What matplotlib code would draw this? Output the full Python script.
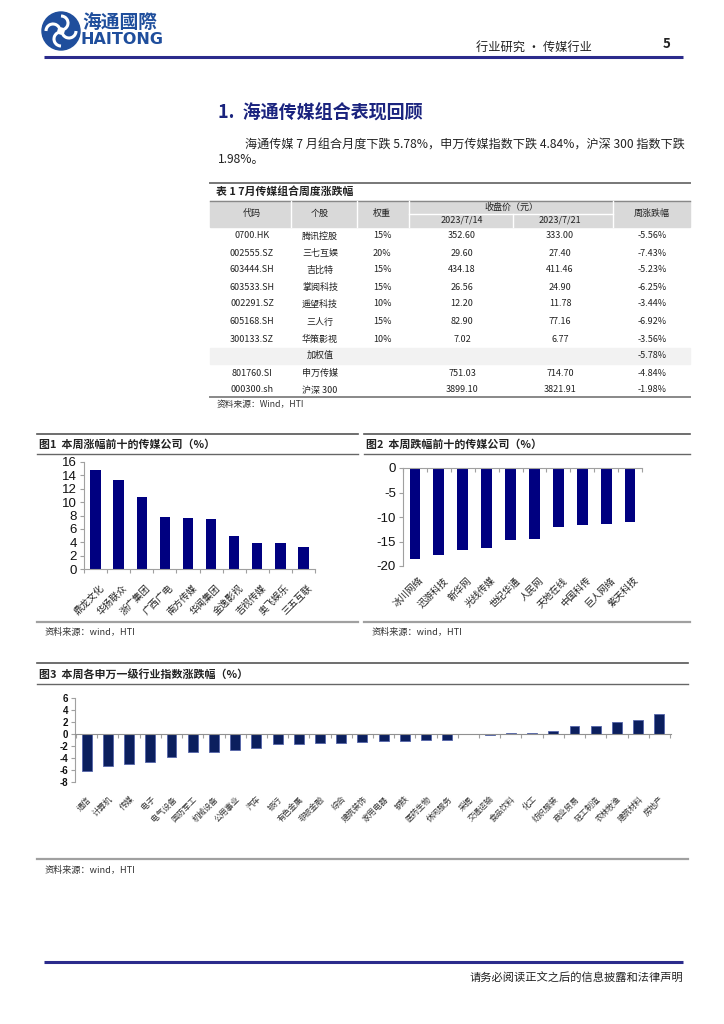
import matplotlib
matplotlib.use("Agg")
import matplotlib.pyplot as plt
from matplotlib.patches import Rectangle, Circle, Arc
import numpy as np

plt.rcParams['font.family'] = ['Noto Sans CJK SC', 'DejaVu Sans']
plt.rcParams['axes.unicode_minus'] = False

# ---------------- data ----------------
tbl_codes = ["0700.HK", "002555.SZ", "603444.SH", "603533.SH", "002291.SZ", "605168.SH", "300133.SZ"]
tbl_names = ["腾讯控股", "三七互娱", "吉比特", "掌阅科技", "遥望科技", "三人行", "华策影视"]
tbl_weights = ["15%", "20%", "15%", "15%", "10%", "15%", "10%"]
tbl_p0714 = ["352.60", "29.60", "434.18", "26.56", "12.20", "82.90", "7.02"]
tbl_p0721 = ["333.00", "27.40", "411.46", "24.90", "11.78", "77.16", "6.77"]
tbl_chg = ["-5.56%", "-7.43%", "-5.23%", "-6.25%", "-3.44%", "-6.92%", "-3.56%"]
weighted_chg = "-5.78%"
idx_codes = ["801760.SI", "000300.sh"]
idx_names = ["申万传媒", "沪深 300"]
idx_p0714 = ["751.03", "3899.10"]
idx_p0721 = ["714.70", "3821.91"]
idx_chg = ["-4.84%", "-1.98%"]

fig1_names = ["鼎龙文化", "华扬联众", "浙广集团", "广西广电", "南方传媒", "华闻集团", "金逸影视", "吉视传媒", "奥飞娱乐", "三五互联"]
fig1_vals = [14.8, 13.35, 10.75, 7.75, 7.65, 7.5, 5.0, 3.9, 3.9, 3.3]

fig2_names = ["冰川网络", "迅游科技", "新华网", "光线传媒", "世纪华通", "人民网", "天地在线", "中国科传", "巨人网络", "紫天科技"]
fig2_vals = [-18.5, -17.7, -16.7, -16.4, -14.6, -14.4, -12.0, -11.6, -11.4, -11.1]

fig3_names = ["通信", "计算机", "传媒", "电子", "电气设备", "国防军工", "机械设备", "公用事业", "汽车",
              "银行", "有色金属", "非银金融", "综合", "建筑装饰", "家用电器", "钢铁", "医药生物", "休闲服务",
              "采掘", "交通运输", "食品饮料", "化工", "纺织服装", "商业贸易", "轻工制造", "农林牧渔",
              "建筑材料", "房地产"]
fig3_vals = [-6.2, -5.3, -5.05, -4.6, -3.9, -3.0, -3.0, -2.7, -2.3,
             -1.7, -1.7, -1.55, -1.45, -1.3, -1.2, -1.2, -1.0, -1.0,
             0.0, -0.15, 0.15, 0.15, 0.5, 1.4, 1.4, 1.95,
             2.4, 3.35]

# ---------------- figure ----------------
W, H = 724, 1024
fig = plt.figure(figsize=(W / 100, H / 100), dpi=100)
bg = fig.add_axes([0, 0, 1, 1])
bg.set_xlim(0, W)
bg.set_ylim(H, 0)
bg.axis('off')

NAVY = '#1F4E9C'
TXT = '#222222'
ARIAL = ['Liberation Sans', 'DejaVu Sans']

# logo
bg.add_patch(Circle((61, 31), 19, color=NAVY, zorder=2))
for ang in (0, 90, 180, 270):
    t = np.deg2rad(ang)
    cx_, cy_ = 61 + 8 * np.cos(t), 31 + 8 * np.sin(t)
    bg.add_patch(Arc((cx_, cy_), 14, 14, angle=ang, theta1=0, theta2=200, color='white', lw=2.2, zorder=3))
bg.add_patch(Circle((61, 31), 3, color='white', zorder=3))
bg.text(82, 22, "海通國際", fontsize=13.5, fontweight='bold', color=NAVY, va='center', ha='left')
bg.text(81, 40, "HAITONG", fontsize=11.5, fontweight='bold', color=NAVY, va='center', ha='left',
        family=['DejaVu Sans'])

# header
bg.text(592, 47, "行业研究 • 传媒行业", fontsize=8.8, color=TXT, ha='right', va='center')
bg.text(667, 44, "5", fontsize=9.5, fontweight='bold', color=TXT, ha='center', va='center')
bg.plot([44, 683], [57, 57], color='#2B2B8C', lw=2.2, solid_capstyle='butt')

# section title
bg.text(218, 113, "1.  海通传媒组合表现回顾", fontsize=13, fontweight='bold', color='#1A237E',
        ha='left', va='center')
bg.text(245, 145, "海通传媒 7 月组合月度下跌 5.78%，申万传媒指数下跌 4.84%，沪深 300 指数下跌",
        fontsize=8.7, color=TXT, ha='left', va='center')
bg.text(218, 160, "1.98%。", fontsize=8.7, color=TXT, ha='left', va='center')

# ---------------- table ----------------
TL, TR = 210, 690
bg.plot([TL, TR], [183, 183], color='#777777', lw=1.4)
bg.text(216, 192, "表 1 7月传媒组合周度涨跌幅", fontsize=7.8, fontweight='bold', color=TXT, va='center')
bg.add_patch(Rectangle((TL, 201), TR - TL, 26, color='#D9D9D9', zorder=1))
bg.plot([TL, TR], [201, 201], color='#888888', lw=1.0, zorder=2)
for xs in (291, 357, 409, 613):
    bg.plot([xs, xs], [201, 227], color='white', lw=1.0, zorder=2)
bg.plot([409, 613], [214, 214], color='white', lw=1.0, zorder=2)
bg.plot([513, 513], [214, 227], color='white', lw=1.0, zorder=2)

cx = [252, 320, 382, 462, 560, 652]
hs = 6.5
bg.text(cx[0], 213, "代码", fontsize=hs, color=TXT, ha='center', va='center', zorder=3)
bg.text(cx[1], 213, "个股", fontsize=hs, color=TXT, ha='center', va='center', zorder=3)
bg.text(cx[2], 213, "权重", fontsize=hs, color=TXT, ha='center', va='center', zorder=3)
bg.text(511, 207, "收盘价（元）", fontsize=hs, color=TXT, ha='center', va='center', zorder=3)
bg.text(cx[3], 220.5, "2023/7/14", fontsize=hs, color=TXT, ha='center', va='center', zorder=3)
bg.text(cx[4], 220.5, "2023/7/21", fontsize=hs, color=TXT, ha='center', va='center', zorder=3)
bg.text(cx[5], 213, "周涨跌幅", fontsize=hs, color=TXT, ha='center', va='center', zorder=3)

row_y = [236, 253, 270, 287, 304, 322, 339]
for i in range(len(tbl_codes)):
    y = row_y[i]
    vals = [tbl_codes[i], tbl_names[i], tbl_weights[i], tbl_p0714[i], tbl_p0721[i], tbl_chg[i]]
    for x, v in zip(cx, vals):
        bg.text(x, y, v, fontsize=hs, color=TXT, ha='center', va='center')

bg.add_patch(Rectangle((TL, 348), TR - TL, 16, color='#F2F2F2', zorder=1))
bg.text(cx[1], 355, "加权值", fontsize=hs, color=TXT, ha='center', va='center')
bg.text(cx[5], 355, weighted_chg, fontsize=hs, color=TXT, ha='center', va='center')

for j, y in enumerate([373, 390]):
    vals = [idx_codes[j], idx_names[j], "", idx_p0714[j], idx_p0721[j], idx_chg[j]]
    for x, v in zip(cx, vals):
        if v:
            bg.text(x, y, v, fontsize=hs, color=TXT, ha='center', va='center')

bg.plot([TL, TR], [397, 397], color='#888888', lw=1.4)
bg.text(217, 404, "资料来源：Wind，HTI", fontsize=6.3, color='#333333', va='center')


# ---------------- chart panels ----------------
def panel(x0, x1, ytop, ytitle_line, ybot, title, src_y, src_x):
    bg.plot([x0, x1], [ytop, ytop], color='#555555', lw=1.2)
    bg.text(x0 + 2, (ytop + ytitle_line) / 2 + 0.5, title, fontsize=7.9, fontweight='bold', color=TXT,
            va='center', ha='left')
    bg.plot([x0, x1], [ytitle_line, ytitle_line], color='#666666', lw=1.0)
    bg.plot([x0, x1], [ybot, ybot], color='#A0A0A0', lw=1.6)
    bg.text(src_x, src_y, "资料来源：wind，HTI", fontsize=6.6, color='#333333', va='center')


panel(37, 358, 434, 454, 622, "图1  本周涨幅前十的传媒公司（%）", 632, 45)
panel(364, 690, 434, 454, 622, "图2  本周跌幅前十的传媒公司（%）", 632, 372)
panel(37, 688, 663, 684, 859, "图3  本周各申万一级行业指数涨跌幅（%）", 870, 45)


def add_ax(x0, ytop, x1, ybot):
    return fig.add_axes([x0 / W, 1 - ybot / H, (x1 - x0) / W, (ybot - ytop) / H])


def style(ax, yticks, ticksize, weight='normal'):
    for s in ('top', 'right'):
        ax.spines[s].set_visible(False)
    ax.spines['left'].set_color('#A0A0A0')
    ax.spines['bottom'].set_color('#A0A0A0')
    ax.set_yticks(yticks)
    ax.set_yticklabels([str(int(v)) for v in yticks], fontfamily=ARIAL, fontsize=ticksize,
                       fontweight=weight, color='#111111')
    ax.tick_params(axis='y', length=3, color='#A0A0A0', pad=2)
    ax.tick_params(axis='x', length=3, color='#A0A0A0', labelbottom=False)
    ax.patch.set_alpha(0)


# Figure 1
ax1 = add_ax(84, 462, 315, 569)
n1 = len(fig1_vals)
ax1.bar(np.arange(n1), fig1_vals, width=0.45, color='#000080', zorder=2)
ax1.set_xlim(-0.5, n1 - 0.5)
ax1.set_ylim(0, 16)
ax1.set_xticks(np.arange(n1 + 1) - 0.5)
style(ax1, np.arange(0, 17, 2), 9.5)
for i, name in enumerate(fig1_names):
    ax1.annotate(name, xy=(i, 0), xycoords='data', xytext=(3, -10), textcoords='offset points',
                 rotation=45, ha='right', va='top', rotation_mode='anchor', fontsize=6.8, color=TXT)

# Figure 2
ax2 = add_ax(403, 468, 642, 566)
n2 = len(fig2_vals)
ax2.bar(np.arange(n2), fig2_vals, width=0.45, color='#000080', zorder=2)
ax2.set_xlim(-0.5, n2 - 0.5)
ax2.set_ylim(-20, 0)
ax2.set_xticks(np.arange(n2 + 1) - 0.5)
style(ax2, np.arange(-20, 1, 5), 9.5)
ax2.spines['bottom'].set_visible(False)
ax2.spines['top'].set_visible(True)
ax2.spines['top'].set_color('#A0A0A0')
ax2.tick_params(axis='x', top=True, bottom=False, direction='in', length=3)
for i, name in enumerate(fig2_names):
    ax2.annotate(name, xy=(i, -20), xycoords='data', xytext=(3, -7), textcoords='offset points',
                 rotation=45, ha='right', va='top', rotation_mode='anchor', fontsize=6.8, color=TXT)

# Figure 3
ax3 = add_ax(75, 698, 671, 782)
n3 = len(fig3_vals)
ax3.bar(np.arange(n3), fig3_vals, width=0.47, color='#0B1F5E', edgecolor='#5565AA', lw=0.6, zorder=2)
ax3.set_xlim(-0.55, n3 - 0.45)
ax3.set_ylim(-8, 6)
ax3.set_xticks(np.arange(n3 + 1) - 0.5)
style(ax3, np.arange(-8, 7, 2), 7, weight='bold')
ax3.spines['bottom'].set_position(('data', 0))
ax3.spines['bottom'].set_color('#909090')
for i, name in enumerate(fig3_names):
    ax3.annotate(name, xy=(i, -8), xycoords='data', xytext=(0, -9), textcoords='offset points',
                 rotation=45, ha='right', va='top', rotation_mode='anchor', fontsize=5.8, color='#333333')

# footer
bg.plot([44, 683], [962, 962], color='#2B2B8C', lw=2.2, solid_capstyle='butt')
bg.text(683, 978, "请务必阅读正文之后的信息披露和法律声明", fontsize=8.1, color=TXT, ha='right', va='center')

fig.savefig("out.png", dpi=100)
